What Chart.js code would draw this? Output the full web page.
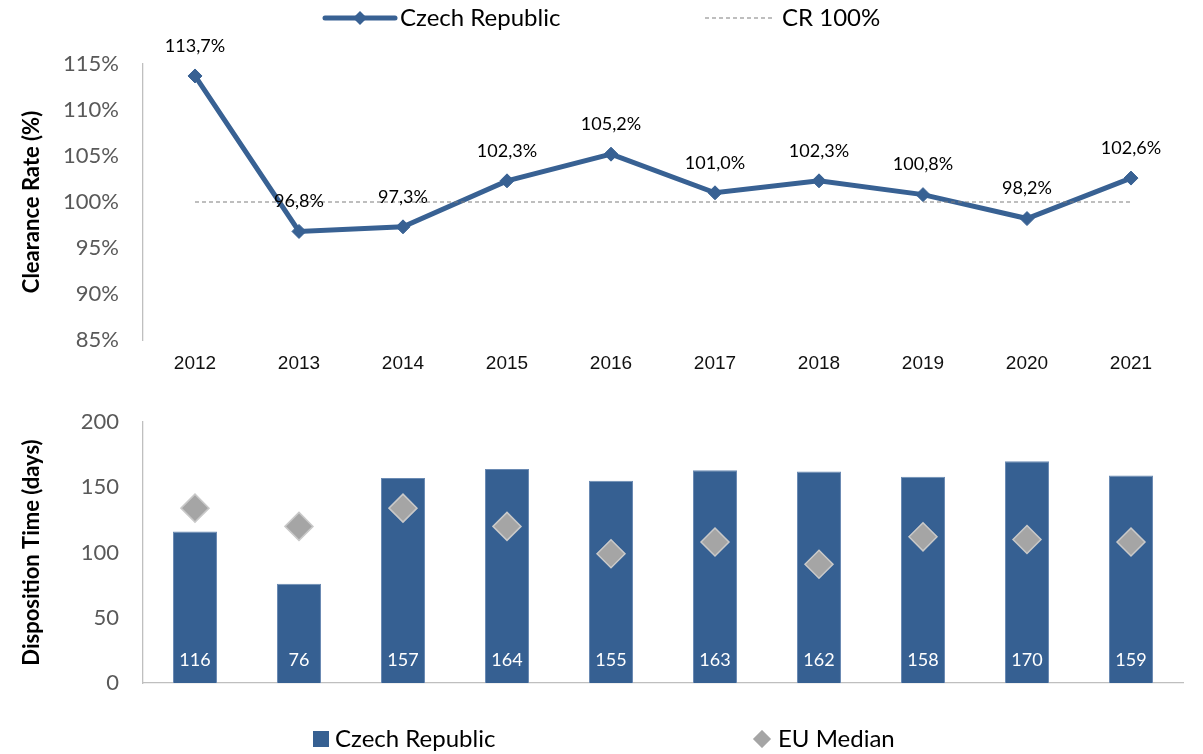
<!DOCTYPE html>
<html>
<head>
<meta charset="utf-8">
<script src="https://cdn.jsdelivr.net/npm/chart.js@4.4.1/dist/chart.umd.min.js"></script>
<style>
  html, body { margin: 0; padding: 0; background: #fff; }
  canvas { display: block; }
</style>
</head>
<body>
<canvas id="rateChart" width="1203" height="380"></canvas>
<canvas id="timeChart" width="1203" height="374"></canvas>
<script>
// data
const years = ['2012', '2013', '2014', '2015', '2016', '2017', '2018', '2019', '2020', '2021'];
const clearanceRate = [113.7, 96.8, 97.3, 102.3, 105.2, 101.0, 102.3, 100.8, 98.2, 102.6];
const crTarget = [100, 100, 100, 100, 100, 100, 100, 100, 100, 100];
const dispositionCZ = [116, 76, 157, 164, 155, 163, 162, 158, 170, 159];
const dispositionEU = [134, 120, 134, 120, 99, 108, 91, 112, 110, 108];

const blue = '#386193';
const barBlue = '#366092';
const axisGrey = '#bfbfbf';
const tickGrey = '#595959';
const euGrey = '#a5a5a5';

function fmtRate(v) {
    return v.toFixed(1).replace('.', ',') + '%';
}

// labels above the line points
const rateLabels = {
    id: 'rateLabels',
    afterDatasetsDraw(chart) {
        const ctx = chart.ctx;
        const meta = chart.getDatasetMeta(0);
        ctx.save();
        ctx.font = '18px Lato';
        ctx.fillStyle = '#000';
        ctx.textAlign = 'center';
        ctx.textBaseline = 'middle';
        meta.data.forEach(function (pt, i) {
            ctx.fillText(fmtRate(clearanceRate[i]), pt.x, pt.y - 30);
        });
        ctx.restore();
    }
};

// values inside the bars, near the base
const barLabels = {
    id: 'barLabels',
    afterDatasetsDraw(chart) {
        const ctx = chart.ctx;
        const meta = chart.getDatasetMeta(0);
        ctx.save();
        ctx.font = '18px Lato';
        ctx.fillStyle = '#fff';
        ctx.textAlign = 'center';
        ctx.textBaseline = 'middle';
        meta.data.forEach(function (bar, i) {
            ctx.fillText(String(dispositionCZ[i]), bar.x, bar.base - 23);
        });
        ctx.restore();
    }
};

// excel style legends
const rateLegend = {
    id: 'rateLegend',
    afterDraw(chart) {
        const ctx = chart.ctx;
        const y = 18;
        ctx.save();
        ctx.lineCap = 'round';
        ctx.strokeStyle = blue;
        ctx.lineWidth = 5;
        ctx.beginPath();
        ctx.moveTo(325, y);
        ctx.lineTo(395, y);
        ctx.stroke();
        ctx.fillStyle = blue;
        Chart.helpers.drawPoint(ctx, { pointStyle: 'rectRot', radius: 7, borderWidth: 0 }, 360, y);

        ctx.lineCap = 'butt';
        ctx.strokeStyle = '#7f7f7f';
        ctx.lineWidth = 1.2;
        ctx.setLineDash([4, 3]);
        ctx.beginPath();
        ctx.moveTo(705, y);
        ctx.lineTo(775, y);
        ctx.stroke();
        ctx.setLineDash([]);

        ctx.font = '24px Lato';
        ctx.fillStyle = '#000';
        ctx.textBaseline = 'middle';
        ctx.fillText('Czech Republic', 400, y);
        ctx.fillText('CR 100%', 782, y);
        ctx.restore();
    }
};

const timeLegend = {
    id: 'timeLegend',
    afterDraw(chart) {
        const ctx = chart.ctx;
        const y = 359;
        ctx.save();
        ctx.fillStyle = barBlue;
        ctx.fillRect(313, y - 8, 16, 16);
        ctx.fillStyle = euGrey;
        ctx.strokeStyle = '#c9c9c9';
        Chart.helpers.drawPoint(ctx, { pointStyle: 'rectRot', radius: 9, borderWidth: 1 }, 762, y);
        ctx.font = '24px Lato';
        ctx.fillStyle = '#000';
        ctx.textBaseline = 'middle';
        ctx.fillText('Czech Republic', 335, y);
        ctx.fillText('EU Median', 778, y);
        ctx.restore();
    }
};

const rateChart = new Chart(document.getElementById('rateChart').getContext('2d'), {
    type: 'line',
    data: {
        labels: years,
        datasets: [
            {
                label: 'Czech Republic',
                data: clearanceRate,
                borderColor: blue,
                backgroundColor: blue,
                borderWidth: 5,
                pointStyle: 'rectRot',
                pointRadius: 7,
                pointHoverRadius: 7,
                pointBorderWidth: 1,
                order: 1
            },
            {
                label: 'CR 100%',
                data: crTarget,
                borderColor: '#7f7f7f',
                borderWidth: 1.2,
                borderDash: [4, 3],
                pointRadius: 0,
                order: 0
            }
        ]
    },
    options: {
        responsive: false,
        animation: false,
        layout: { padding: { top: 64, right: 20, bottom: 0, left: 0 } },
        plugins: { legend: { display: false }, tooltip: { enabled: false } },
        scales: {
            x: {
                offset: true,
                grid: { display: false, drawTicks: false },
                border: { display: false },
                ticks: { padding: 12, color: '#111', maxRotation: 0, font: { family: 'Liberation Sans', size: 19 } },
                afterFit: function (s) { s.height = 40; }
            },
            y: {
                min: 85,
                max: 115,
                grid: { display: false, drawTicks: false },
                border: { color: axisGrey, width: 1.3 },
                ticks: {
                    stepSize: 5,
                    padding: 24,
                    color: tickGrey,
                    font: { family: 'Lato', size: 22 },
                    callback: function (v) { return v + '%'; }
                },
                title: {
                    display: true,
                    text: 'Clearance Rate (%)',
                    color: '#000',
                    font: { family: 'Lato', size: 22, weight: 'bold' },
                    padding: { top: 19 }
                },
                afterFit: function (s) { s.width = 143; }
            }
        }
    },
    plugins: [rateLabels, rateLegend]
});

const timeChart = new Chart(document.getElementById('timeChart').getContext('2d'), {
    data: {
        labels: years,
        datasets: [
            {
                type: 'bar',
                label: 'Czech Republic',
                data: dispositionCZ,
                backgroundColor: barBlue,
                borderColor: '#6a8ab3',
                borderWidth: 1,
                categoryPercentage: 1,
                barPercentage: 0.423,
                order: 1
            },
            {
                type: 'line',
                label: 'EU Median',
                data: dispositionEU,
                showLine: false,
                pointStyle: 'rectRot',
                pointRadius: 14,
                pointHoverRadius: 14,
                pointBackgroundColor: euGrey,
                pointBorderColor: '#c9c9c9',
                pointBorderWidth: 1.5,
                order: 0
            }
        ]
    },
    options: {
        responsive: false,
        animation: false,
        layout: { padding: { top: 42, right: 20, bottom: 71, left: 0 } },
        plugins: { legend: { display: false }, tooltip: { enabled: false } },
        scales: {
            x: {
                offset: true,
                grid: { display: false, drawTicks: false },
                border: { color: axisGrey, width: 1.3 },
                ticks: { display: false },
                afterFit: function (s) { s.height = 0; }
            },
            y: {
                min: 0,
                max: 200,
                grid: { display: false, drawTicks: false },
                border: { color: axisGrey, width: 1.3 },
                ticks: { stepSize: 50, padding: 24, color: tickGrey, font: { family: 'Lato', size: 22 } },
                title: {
                    display: true,
                    text: 'Disposition Time (days)',
                    color: '#000',
                    font: { family: 'Lato', size: 22, weight: 'bold' },
                    padding: { top: 19 }
                },
                afterFit: function (s) { s.width = 143; }
            }
        }
    },
    plugins: [barLabels, timeLegend]
});
</script>
</body>
</html>
